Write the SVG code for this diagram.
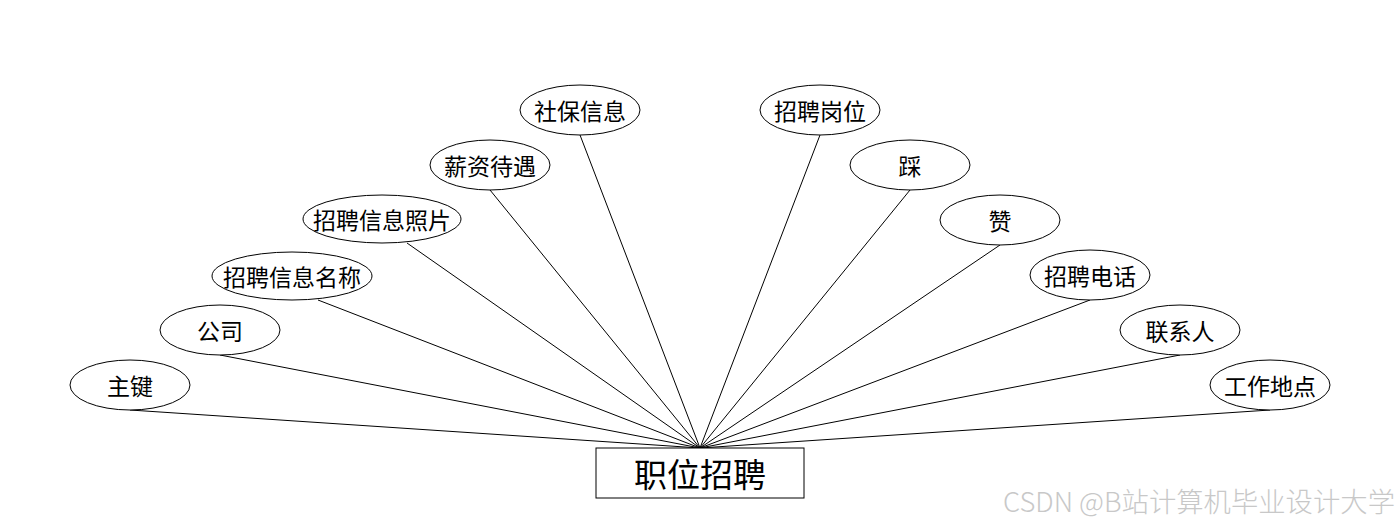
<svg xmlns="http://www.w3.org/2000/svg" width="1400" height="528" viewBox="0 0 1400 528">
<style>
.attr ellipse{fill:#fff;stroke:#000;stroke-width:1}
.attr text{font-family:"Noto Sans CJK SC","Noto Sans",sans-serif;font-size:23px;fill:#000;text-anchor:middle;dominant-baseline:central}
#connectors line{stroke:#000;stroke-width:1}
.ent rect{fill:#fff;stroke:#000;stroke-width:1}
.ent text{font-family:"Noto Sans CJK SC","Noto Sans",sans-serif;font-size:33px;fill:#000;text-anchor:middle;dominant-baseline:central}
.wm{font-family:"Noto Sans CJK SC","Liberation Sans",sans-serif;fill:#c8c8c8;font-weight:300}
</style>
<rect width="1400" height="528" fill="#fff"/>
<g id="connectors">
<line x1="130" y1="410" x2="700" y2="448"/>
<line x1="220" y1="355" x2="700" y2="448"/>
<line x1="318" y1="300" x2="700" y2="448"/>
<line x1="407" y1="243" x2="700" y2="448"/>
<line x1="490" y1="190" x2="700" y2="448"/>
<line x1="580" y1="135" x2="700" y2="448"/>
<line x1="820" y1="135" x2="700" y2="448"/>
<line x1="910" y1="190" x2="700" y2="448"/>
<line x1="1000" y1="245" x2="700" y2="448"/>
<line x1="1090" y1="300" x2="700" y2="448"/>
<line x1="1180" y1="355" x2="700" y2="448"/>
<line x1="1270" y1="410" x2="700" y2="448"/>
</g>
<g id="n-zhujian" class="attr"><ellipse cx="130" cy="385" rx="60" ry="25"/><text x="130" y="385">主键</text></g>
<g id="n-gongsi" class="attr"><ellipse cx="220" cy="330" rx="60" ry="25"/><text x="220" y="330">公司</text></g>
<g id="n-mingcheng" class="attr"><ellipse cx="292" cy="276" rx="80" ry="24"/><text x="292" y="276">招聘信息名称</text></g>
<g id="n-zhaopian" class="attr"><ellipse cx="382" cy="219" rx="79" ry="24"/><text x="382" y="219">招聘信息照片</text></g>
<g id="n-xinzi" class="attr"><ellipse cx="490" cy="165" rx="60" ry="25"/><text x="490" y="165">薪资待遇</text></g>
<g id="n-shebao" class="attr"><ellipse cx="580" cy="110" rx="60" ry="25"/><text x="580" y="110">社保信息</text></g>
<g id="n-gangwei" class="attr"><ellipse cx="820" cy="110" rx="60" ry="25"/><text x="820" y="110">招聘岗位</text></g>
<g id="n-cai" class="attr"><ellipse cx="910" cy="165" rx="60" ry="25"/><text x="910" y="165">踩</text></g>
<g id="n-zan" class="attr"><ellipse cx="1000" cy="220" rx="60" ry="25"/><text x="1000" y="220">赞</text></g>
<g id="n-dianhua" class="attr"><ellipse cx="1090" cy="275" rx="60" ry="25"/><text x="1090" y="275">招聘电话</text></g>
<g id="n-lianxiren" class="attr"><ellipse cx="1180" cy="330" rx="60" ry="25"/><text x="1180" y="330">联系人</text></g>
<g id="n-didian" class="attr"><ellipse cx="1270" cy="385" rx="60" ry="25"/><text x="1270" y="385">工作地点</text></g>
<g id="n-zhiwei" class="ent"><rect x="596" y="448" width="208" height="50"/><text x="700" y="473">职位招聘</text></g>
<text class="wm" x="1003" y="512" font-size="27" textLength="392" lengthAdjust="spacingAndGlyphs">CSDN @B站计算机毕业设计大学</text>
</svg>
